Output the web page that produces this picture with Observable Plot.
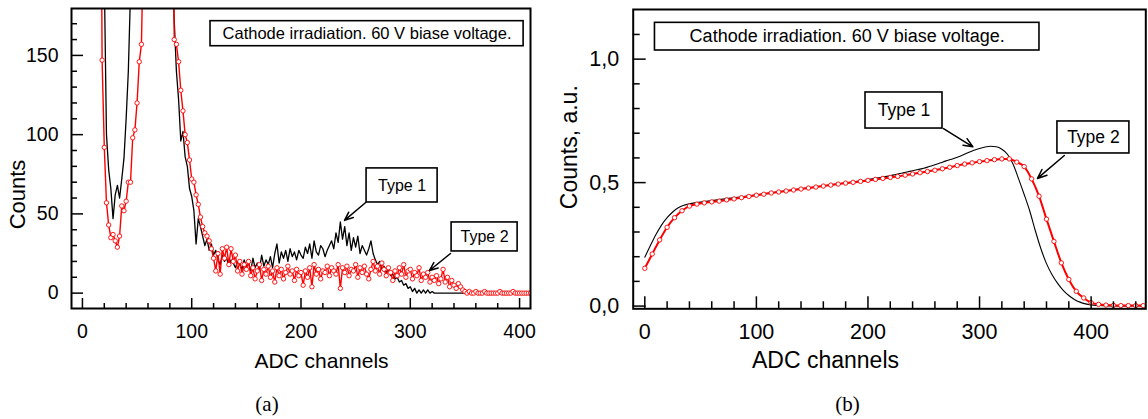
<!DOCTYPE html>
<html><head><meta charset="utf-8">
<script src="https://cdn.jsdelivr.net/npm/d3@7"></script>
<script src="https://cdn.jsdelivr.net/npm/@observablehq/plot@0.6"></script>
<style>
body{margin:0;background:#fff;}
#wrap{display:flex;width:1148px;height:419px;overflow:hidden;}
svg{display:block;}
</style></head><body><div id="wrap"></div>
<script>
// ---------- Panel (a): raw spectra, channels 16..410 step 2 ----------
const chA = d3.range(16, 411, 2);
const type1A = [
  600,400,200,100,78,66,47,62,68,60,        // 16-34
  72,85,110,140,190,320,500,700,900,1100,   // 36-54
  1300,1400,1450,1400,1300,1150,1000,850,700,560, // 56-74
  440,340,270,210,172,140,122,96,102,86,    // 76-94
  80,66,61,52,31,47,42,36,30,34,            // 96-114
  27,31,24,27,21,18,24,20,22,17,            // 116-134
  21,19,16,20,18,15,21,17,19,14,            // 136-154
  22,16,19,15,24,17,21,18,23,16,            // 156-174
  25,31,19,26,22,27,20,28,23,26,            // 176-194
  21,27,24,22,29,25,31,22,33,26,            // 196-214
  24,30,28,23,27,30,33,28,38,32,            // 216-234
  45,34,42,30,38,27,35,29,36,25,            // 236-254
  30,27,24,28,33,25,21,18,20,15,            // 256-274
  17,13,15,11,12,9,10,7,8,5,                // 276-294
  6,3,4,1,3,0,2,0,2,0,                      // 296-314
  2,0,1,0,0,0,0,0,0,0,                      // 316-334
  0,0,0,0,0,0,0,0,0,0,                      // 336-354
  0,0,0,0,0,0,0,0,0,0,                      // 356-374
  0,0,0,0,0,0,0,0,0,0,                      // 376-394
  0,0,0,0,0,0,0,0                           // 396-410
];
const type2A = [
  400,147,92,57,43,35,37,33,29,36,          // 16-34
  55,52,58,70,70,98,103,120,146,157,        // 36-54
  230,400,900,1300,1500,1600,1600,1500,1400,1200, // 56-74
  1000,800,600,300,160,157,146,128,115,100, // 76-94
  95,84,72,70,62,56,48,42,38,36,            // 96-114
  33,28,22,14,25,12,28,22,29,18,            // 116-134
  28,20,24,14,20,12,18,15,20,11,            // 136-154
  16,9,14,18,8,15,12,17,10,14,              // 156-174
  7,16,11,15,9,13,17,12,14,8,               // 176-194
  15,11,13,5,14,10,16,4,18,12,              // 196-214
  15,9,14,13,17,11,16,14,12,18,             // 216-234
  3,16,13,17,11,15,14,18,10,16,             // 236-254
  13,17,12,9,15,20,14,17,12,19,             // 256-274
  15,11,16,13,8,14,11,16,12,18,             // 276-294
  10,14,15,9,13,11,16,8,12,10,              // 296-314
  13,7,10,8,11,6,9,15,7,10,                 // 316-334
  4,8,5,3,6,4,2,1,0,1,                      // 336-354
  0,0,1,0,0,0,1,0,0,0,                      // 356-374
  0,0,0,1,0,0,0,0,0,1,                      // 376-394
  0,0,0,0,0,0,0,0                           // 396-410
];
const xMajorA = [0,100,200,300,400];
const xMinorA = [20,40,60,80,120,140,160,180,220,240,260,280,320,340,360,380];
const yMajorA = [0,50,100,150];
const yMinorA = [10,20,30,40,60,70,80,90,110,120,130,140,160,170];

// annotation boxes (a), in data units
const boxTextA = ["Cathode irradiation. 60 V biase voltage.", "Type 1", "Type 2"];
const boxX1A = [117.2, 260, 337.8];
const boxX2A = [403.7, 325, 398.2];
const boxY1A = [171.6, 78.7, 44.6];
const boxY2A = [155.8, 57.2, 26.3];
const arrX1A = [259.2, 336.8], arrY1A = [57.2, 25.0];
const arrX2A = [239.8, 317.6], arrY2A = [45.9, 14.3];

// ---------- Panel (b): normalised spectra ----------
const chB1 = d3.range(0, 451, 5);
const type1B = [
  0.198,0.245,0.290,0.328,0.358,0.381,0.398,0.408,0.414,0.418, // 0-45
  0.421,0.424,0.427,0.430,0.433,0.436,0.439,0.442,0.445,0.448, // 50-95
  0.451,0.454,0.457,0.460,0.463,0.466,0.469,0.472,0.475,0.478, // 100-145
  0.481,0.484,0.487,0.490,0.493,0.496,0.499,0.502,0.505,0.508, // 150-195
  0.512,0.516,0.520,0.524,0.528,0.533,0.538,0.543,0.548,0.553, // 200-245
  0.558,0.565,0.572,0.580,0.588,0.595,0.603,0.612,0.622,0.631, // 250-295
  0.638,0.644,0.647,0.645,0.635,0.615,0.575,0.515,0.452,0.385, // 300-345
  0.305,0.232,0.172,0.127,0.092,0.064,0.043,0.027,0.016,0.009, // 350-395
  0.005,0.003,0.002,0.001,0.001,0.001,0.001,0.001,0.001,0.001, // 400-445
  0.001                                                        // 450
];
const chB2 = d3.range(68).map(i => i * 20 / 3);
const type2B = [
  0.153,0.211,0.268,0.319,0.358,0.386,0.405,0.413,0.418,0.422,
  0.425,0.430,0.434,0.439,0.444,0.449,0.453,0.458,0.462,0.466,
  0.470,0.474,0.478,0.482,0.486,0.490,0.494,0.498,0.501,0.505,
  0.509,0.513,0.517,0.521,0.525,0.530,0.535,0.540,0.545,0.550,
  0.556,0.562,0.569,0.575,0.580,0.585,0.589,0.593,0.596,0.596,
  0.583,0.565,0.515,0.445,0.352,0.262,0.175,0.108,0.060,0.033,
  0.014,0.007,0.004,0.003,0.002,0.002,0.002,0.002
];
const xMajorB = [0,100,200,300,400];
const xMinorB = [20,40,60,80,120,140,160,180,220,240,260,280,320,340,360,380,420,440];
const yMajorB = [0,0.5,1.0];
const yMinorB = [0.1,0.2,0.3,0.4,0.6,0.7,0.8,0.9,1.1];

const boxTextB = ["Cathode irradiation. 60 V biase voltage.", "Type 1", "Type 2"];
const boxX1B = [9.1, 197.8, 369.8];
const boxX2B = [353.7, 266.8, 434.3];
const boxY1B = [1.147, 0.865, 0.7476];
const boxY2B = [1.035, 0.719, 0.618];
const arrX1B = [267.7, 376.0], arrY1B = [0.719, 0.610];
const arrX2B = [294.0, 351.9], arrY2B = [0.645, 0.517];

// ---------- build ----------
const FONT = "'Liberation Sans', Arial, Helvetica, sans-serif";
const SERIF = "'Liberation Serif', 'Times New Roman', serif";
const wrap = document.getElementById("wrap");

function boxes(texts, x1, x2, y1, y2) {
  return texts.map((t, i) => ({t, x1: x1[i], x2: x2[i], y1: y1[i], y2: y2[i], big: i === 0}));
}
function arrows(x1, y1, x2, y2) {
  return x1.map((_, i) => ({x1: x1[i], y1: y1[i], x2: x2[i], y2: y2[i]}));
}
const T = {textAnchor: "middle", lineAnchor: "middle", fill: "black"};

// Panel a
{
  const W = 560, H = 419, mL = 71, mR = 30, mT = 8, mB = 111;
  const iW = W - mL - mR, iH = H - mT - mB;
  const data = chA.map((ch, i) => ({ch, t1: type1A[i], t2: type2A[i]}));
  const bx = boxes(boxTextA, boxX1A, boxX2A, boxY1A, boxY2A);
  const ar = arrows(arrX1A, arrY1A, arrX2A, arrY2A);
  const fx = (mL + W - mR) / 2, fy = (mT + H - mB) / 2;
  const svg = Plot.plot({
    width: W, height: H, marginLeft: mL, marginRight: mR, marginTop: mT, marginBottom: mB,
    style: {fontFamily: FONT, fontSize: "19.5px", color: "black", background: "white", overflow: "visible"},
    x: {domain: [-10, 410]},
    y: {domain: [-9.7, 179.6]},
    marks: [
      Plot.line(data, {x: "ch", y: "t1", stroke: "black", strokeWidth: 1.3, clip: true}),
      Plot.line(data, {x: "ch", y: "t2", stroke: "#ff0000", strokeWidth: 1.4, clip: true}),
      Plot.dot(data, {x: "ch", y: "t2", r: 2.2, stroke: "#ff0000", fill: "white", strokeWidth: 0.9, clip: true}),
      Plot.rect(bx, {x1: "x1", x2: "x2", y1: "y1", y2: "y2", fill: "white", stroke: "black", strokeWidth: 1.6}),
      Plot.text(bx.filter(d => d.big), {...T, x: d => (d.x1 + d.x2) / 2, y: d => (d.y1 + d.y2) / 2, text: "t", fontSize: 16.5}),
      Plot.text(bx.filter(d => !d.big), {...T, x: d => (d.x1 + d.x2) / 2, y: d => (d.y1 + d.y2) / 2, text: "t", fontSize: 16}),
      Plot.arrow(ar, {x1: "x1", y1: "y1", x2: "x2", y2: "y2", stroke: "black", strokeWidth: 1.5, headLength: 10, headAngle: 45}),
      Plot.tickX(xMajorA, {x: d => d, insetTop: iH - 10, stroke: "black", strokeWidth: 1.5}),
      Plot.tickX(xMinorA, {x: d => d, insetTop: iH - 5, stroke: "black", strokeWidth: 1.5}),
      Plot.tickY(yMajorA, {y: d => d, insetRight: iW - 12, stroke: "black", strokeWidth: 1.5}),
      Plot.tickY(yMinorA, {y: d => d, insetRight: iW - 6, stroke: "black", strokeWidth: 1.5}),
      Plot.axisX(xMajorA, {tickSize: 0, tickPadding: 16, label: null, fontSize: 19.5}),
      Plot.axisY(yMajorA, {tickSize: 0, tickPadding: 13, label: null, fontSize: 19.5}),
      Plot.text(["Counts"], {...T, frameAnchor: "left", dx: 17 - mL, dy: 194 - fy, rotate: -90, fontSize: 22}),
      Plot.text(["ADC channels"], {...T, frameAnchor: "bottom", dx: 321 - fx, dy: 360.5 - (H - mB), fontSize: 21}),
      Plot.text(["(a)"], {...T, frameAnchor: "bottom", dx: 266.5 - fx, dy: 404 - (H - mB), fontSize: 21, fontFamily: SERIF}),
      Plot.frame({stroke: "black", strokeWidth: 2})
    ]
  });
  wrap.appendChild(svg);
}

// Panel b
{
  const W = 588, H = 419, mL = 72.7, mR = 2.7, mT = 9, mB = 110.7;
  const iW = W - mL - mR, iH = H - mT - mB;
  const d1 = chB1.map((ch, i) => ({ch, v: type1B[i]}));
  const d2 = chB2.map((ch, i) => ({ch, v: type2B[i]}));
  const bx = boxes(boxTextB, boxX1B, boxX2B, boxY1B, boxY2B);
  const ar = arrows(arrX1B, arrY1B, arrX2B, arrY2B);
  const fx = (mL + W - mR) / 2, fy = (mT + H - mB) / 2;
  const fmt = d => d.toFixed(1).replace(".", ",");
  const svg = Plot.plot({
    width: W, height: H, marginLeft: mL, marginRight: mR, marginTop: mT, marginBottom: mB,
    style: {fontFamily: FONT, fontSize: "21.5px", color: "black", background: "white", overflow: "visible"},
    x: {domain: [-10.4, 449]},
    y: {domain: [-0.011, 1.201]},
    marks: [
      Plot.line(d1, {x: "ch", y: "v", stroke: "black", strokeWidth: 1.1, curve: "monotone-x", clip: true}),
      Plot.line(d2, {x: "ch", y: "v", stroke: "#ff0000", strokeWidth: 2, curve: "monotone-x", clip: true}),
      Plot.dot(d2, {x: "ch", y: "v", r: 2.2, stroke: "#ff0000", fill: "white", strokeWidth: 0.9, clip: true}),
      Plot.rect(bx, {x1: "x1", x2: "x2", y1: "y1", y2: "y2", fill: "white", stroke: "black", strokeWidth: 1.6}),
      Plot.text(bx.filter(d => d.big), {...T, x: d => (d.x1 + d.x2) / 2, y: d => (d.y1 + d.y2) / 2, text: "t", fontSize: 18}),
      Plot.text(bx.filter(d => !d.big), {...T, x: d => (d.x1 + d.x2) / 2, y: d => (d.y1 + d.y2) / 2, text: "t", fontSize: 17.5}),
      Plot.arrow(ar, {x1: "x1", y1: "y1", x2: "x2", y2: "y2", stroke: "black", strokeWidth: 1.5, headLength: 10, headAngle: 45}),
      Plot.tickX(xMajorB, {x: d => d, insetTop: iH - 12, stroke: "black", strokeWidth: 1.5}),
      Plot.tickX(xMinorB, {x: d => d, insetTop: iH - 7, stroke: "black", strokeWidth: 1.5}),
      Plot.tickY(yMajorB, {y: d => d, insetRight: iW - 13, stroke: "black", strokeWidth: 1.5}),
      Plot.tickY(yMinorB, {y: d => d, insetRight: iW - 7, stroke: "black", strokeWidth: 1.5}),
      Plot.axisX(xMajorB, {tickSize: 0, tickPadding: 15, label: null, fontSize: 21.5}),
      Plot.axisY(yMajorB, {tickSize: 0, tickPadding: 14, label: null, tickFormat: fmt, fontSize: 21.5}),
      Plot.text(["Counts, a.u."], {...T, frameAnchor: "left", dx: 9.5 - mL, dy: 146.7 - fy, rotate: -90, fontSize: 23}),
      Plot.text(["ADC channels"], {...T, frameAnchor: "bottom", dx: (825 - 560) - fx, dy: 360 - (H - mB), fontSize: 23}),
      Plot.text(["(b)"], {...T, frameAnchor: "bottom", dx: (847 - 560) - fx, dy: 404 - (H - mB), fontSize: 21, fontFamily: SERIF}),
      Plot.frame({stroke: "black", strokeWidth: 2})
    ]
  });
  wrap.appendChild(svg);
}
</script></body></html>
